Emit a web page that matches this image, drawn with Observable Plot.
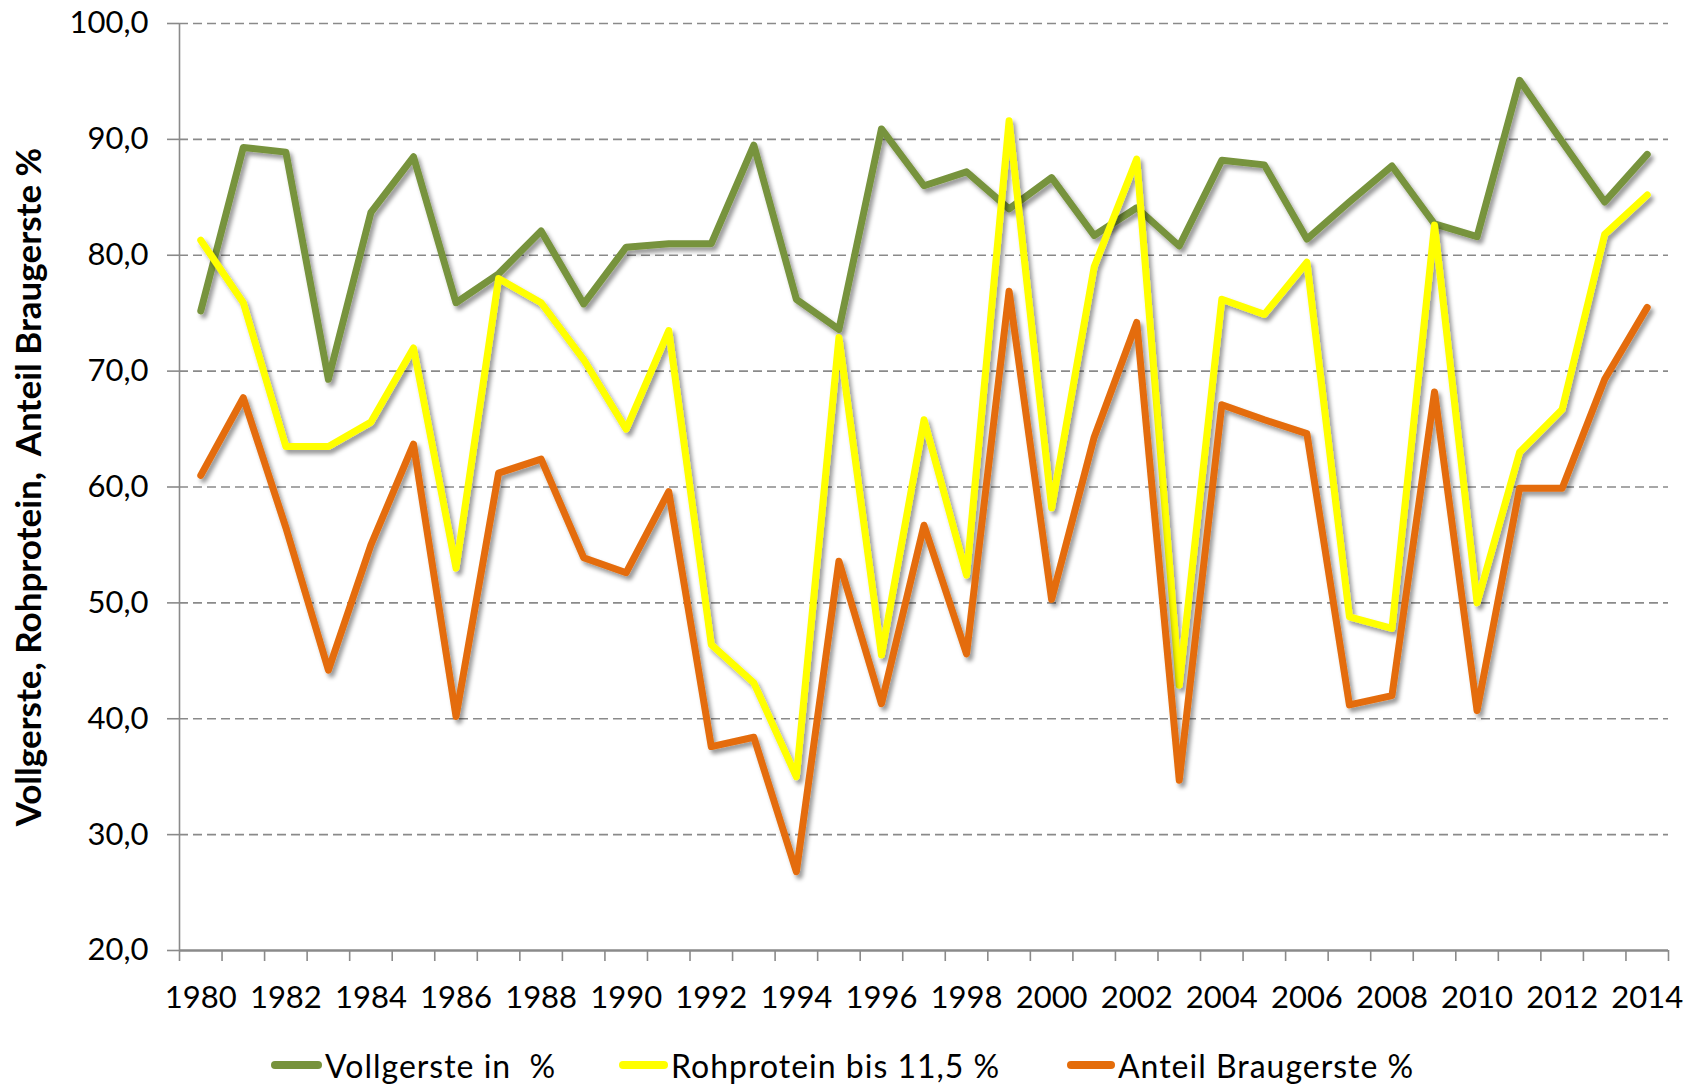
<!DOCTYPE html>
<html><head><meta charset="utf-8">
<script src="https://cdn.jsdelivr.net/npm/d3@7"></script>
<script src="https://cdn.jsdelivr.net/npm/@observablehq/plot@0.6"></script>
<style>
body{margin:0;background:#fff;}
#chart{position:relative;width:1698px;}
svg text{white-space:pre;}
.legend{position:relative;width:1698px;height:50px;font-family:Lato, sans-serif;font-size:32px;letter-spacing:1px;color:#000;}
.item{position:absolute;top:0;height:50px;display:flex;align-items:center;white-space:pre;}
.sw{height:8px;border-radius:4px;margin-right:3px;}
</style></head><body>
<div id="chart"></div>
<div class="legend" id="legend"></div>
<script>
const years = [1980,1981,1982,1983,1984,1985,1986,1987,1988,1989,1990,1991,1992,1993,1994,1995,1996,1997,1998,1999,2000,2001,2002,2003,2004,2005,2006,2007,2008,2009,2010,2011,2012,2013,2014];
const vollgerste = [75.2,89.3,88.9,69.3,83.7,88.5,75.9,78.4,82.1,75.8,80.7,81.0,81.0,89.5,76.2,73.6,90.9,86.0,87.2,84.0,86.7,81.7,84.1,80.8,88.2,87.8,81.4,84.6,87.7,82.7,81.6,95.1,89.8,84.6,88.7];
const rohprotein = [81.3,75.9,63.5,63.5,65.6,72.0,53.0,78.0,75.9,71.0,65.0,73.5,46.4,43.1,35.0,72.9,45.5,65.8,52.4,91.6,58.2,79.0,88.3,42.9,76.2,74.9,79.4,48.8,47.8,82.6,50.0,63.0,66.7,81.8,85.2];
const braugerste = [61.0,67.7,56.5,44.2,55.0,63.7,40.2,61.2,62.4,53.9,52.6,59.6,37.6,38.4,26.8,53.6,41.3,56.7,45.6,76.9,50.3,64.3,74.2,34.7,67.1,65.8,64.6,41.2,42.0,68.2,40.7,59.9,59.9,69.3,75.5];
const yTicks = [20,30,40,50,60,70,80,90,100];
const xLabels = [1980,1982,1984,1986,1988,1990,1992,1994,1996,1998,2000,2002,2004,2006,2008,2010,2012,2014];
const seriesNames = ["Vollgerste in  %", "Rohprotein bis 11,5 %", "Anteil Braugerste %"];
const seriesColors = ["#77933C", "#FFFF00", "#E46C0A"];
const yLabel = "Vollgerste, Rohprotein,  Anteil Braugerste %";

const xBounds = years.map(y => y - 0.5).concat([years[years.length - 1] + 0.5]);
const fmt = v => d3.format(".1f")(v).replace(".", ",");
const grid = "#8a8a8a";
const seriesValues = [vollgerste, rohprotein, braugerste];

const plot = Plot.plot({
  width: 1698, height: 1040,
  marginLeft: 179, marginRight: 30, marginTop: 23, marginBottom: 90,
  style: {fontFamily: "Lato, sans-serif", fontSize: "31px", color: "#000", background: "#fff", overflow: "visible"},
  x: {type: "linear", domain: [1979.5, 2014.5]},
  y: {domain: [20, 100]},
  marks: [
    Plot.ruleY(yTicks.filter(v => v > 20), {stroke: grid, strokeWidth: 1.6, strokeDasharray: "9,5"}),
    Plot.axisY(yTicks, {tickSize: 12, tickPadding: 19, tickFormat: fmt, stroke: grid, strokeWidth: 1.6, fill: "#000", label: null}),
    Plot.axisX(xBounds, {tickSize: 11, tickFormat: () => "", stroke: grid, strokeWidth: 1.6, label: null}),
    Plot.axisX(xLabels, {tickSize: 0, tickPadding: 35, tickFormat: d => String(d), fill: "#000", label: null}),
    Plot.ruleX([1979.5], {stroke: grid, strokeWidth: 1.6}),
    Plot.ruleY([20], {stroke: grid, strokeWidth: 2.5}),
    ...seriesValues.map((vals, k) => Plot.line(years, {x: d => d, y: (d, i) => vals[i], stroke: seriesColors[k], strokeWidth: 7, strokeLinejoin: "round", strokeLinecap: "round"})),
    Plot.text([yLabel], {frameAnchor: "left", dx: -150, rotate: -90, textAnchor: "middle", text: d => d, fontWeight: "bold", fontSize: 35, fill: "#000"})
  ]
});

const ns = "http://www.w3.org/2000/svg";
const defs = document.createElementNS(ns, "defs");
defs.innerHTML = '<filter id="sh" x="-5%" y="-10%" width="110%" height="125%"><feDropShadow dx="3" dy="4" stdDeviation="2" flood-color="#000" flood-opacity="0.4"/></filter>';
plot.prepend(defs);
plot.querySelectorAll('g[aria-label="line"]').forEach(g => g.setAttribute("filter", "url(#sh)"));
document.getElementById("chart").appendChild(plot);

const legendPos = [[271, 51], [619, 49], [1067, 48]];
const legend = document.getElementById("legend");
seriesNames.forEach((name, k) => {
  const it = document.createElement("div");
  it.className = "item";
  it.style.left = legendPos[k][0] + "px";
  const sw = document.createElement("span");
  sw.className = "sw";
  sw.style.width = legendPos[k][1] + "px";
  sw.style.background = seriesColors[k];
  const tx = document.createElement("span");
  tx.textContent = name;
  it.appendChild(sw); it.appendChild(tx);
  legend.appendChild(it);
});
</script>
</body></html>
